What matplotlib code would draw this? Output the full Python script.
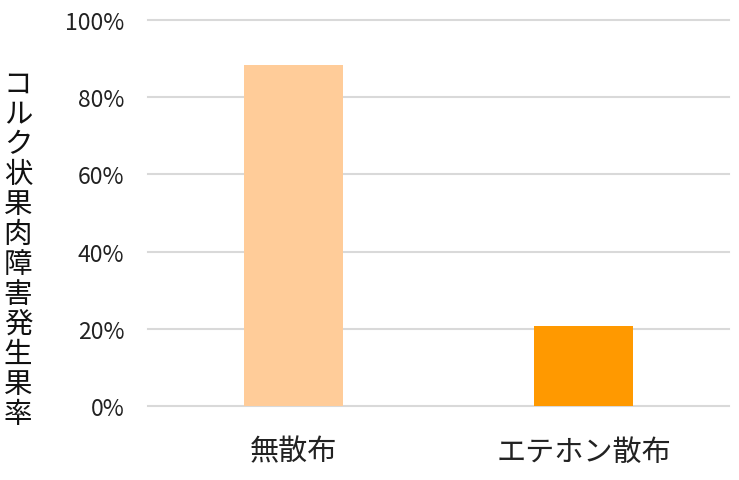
import matplotlib
matplotlib.use("Agg")
import matplotlib.pyplot as plt
from matplotlib.ticker import FuncFormatter

plt.rcParams['font.family'] = ['Noto Sans CJK JP', 'DejaVu Sans']

categories = ["無散布", "エテホン散布"]
values = [0.883, 0.208]
colors = ["#FFCC99", "#FF9900"]
yticks = [0, 0.2, 0.4, 0.6, 0.8, 1.0]
ylabel = "コルク状果肉障害発生果率"

fig = plt.figure(figsize=(7.39, 4.81), dpi=100)
ax = fig.add_axes([148/739, 1-407/481, (729-148)/739, (407-21)/481])

x = list(range(len(categories)))
ax.bar(x, values, width=0.34, color=colors, zorder=3)
ax.set_xlim(-0.5, len(categories)-0.5)
ax.set_ylim(0, 1.0)
ax.set_yticks(yticks)
ax.yaxis.set_major_formatter(FuncFormatter(lambda v, p: f"{v*100:.0f}%"))
ax.grid(axis='y', color='#D9D9D9', linewidth=1.5, zorder=0, clip_on=False)
for s in ax.spines.values():
    s.set_visible(False)
ax.set_xticks(x)
ax.set_xticklabels(categories, fontsize=21)
ax.tick_params(axis='y', length=0, pad=17, labelsize=16.5, labelcolor='#222222')
ax.tick_params(axis='x', length=0, pad=22, labelcolor='#222222')
for gl in ax.get_ygridlines():
    gl.set_clip_on(False)

fig.text(18/739, 1-250/481, "\n".join(ylabel), ha='center', va='center',
         fontsize=20.5, linespacing=1.0, color='#111111')

fig.savefig("out.png", dpi=100, facecolor='white')
